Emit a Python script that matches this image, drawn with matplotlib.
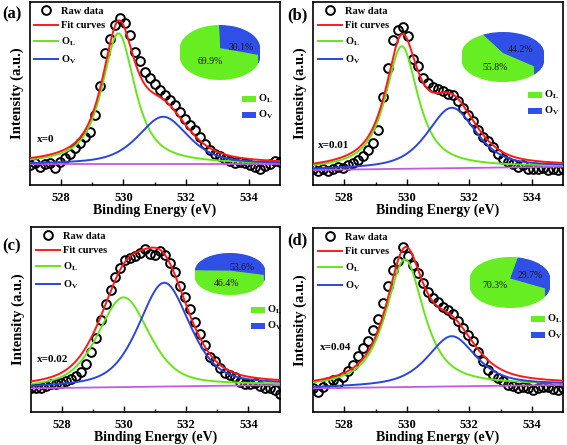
import numpy as np
import matplotlib
matplotlib.use("Agg")
import matplotlib.pyplot as plt
from matplotlib.patches import Wedge, Rectangle

plt.rcParams['font.family'] = ['Liberation Serif', 'DejaVu Serif']
plt.rcParams['font.weight'] = 'bold'
plt.rcParams['mathtext.fontset'] = 'custom'
plt.rcParams['mathtext.rm'] = 'Liberation Serif:bold'
plt.rcParams['mathtext.it'] = 'Liberation Serif:bold'
plt.rcParams['mathtext.bf'] = 'Liberation Serif:bold'

# ---------------- data ----------------
energy = [527.00, 527.16, 527.32, 527.48, 527.64, 527.80, 527.96, 528.12, 528.28, 528.44,
          528.60, 528.76, 528.92, 529.08, 529.24, 529.40, 529.56, 529.72, 529.88, 530.04,
          530.20, 530.36, 530.52, 530.68, 530.84, 531.00, 531.16, 531.32, 531.48, 531.64,
          531.80, 531.96, 532.12, 532.28, 532.44, 532.60, 532.76, 532.92, 533.08, 533.24,
          533.40, 533.56, 533.72, 533.88, 534.04, 534.20, 534.36, 534.52, 534.68, 534.84,
          535.00]

raw_a = [0.110, 0.120, 0.100, 0.115, 0.120, 0.095, 0.125, 0.150, 0.172, 0.200,
         0.228, 0.262, 0.290, 0.380, 0.540, 0.720, 0.800, 0.875, 0.910, 0.885,
         0.820, 0.725, 0.675, 0.620, 0.585, 0.550, 0.520, 0.490, 0.465, 0.435,
         0.400, 0.360, 0.330, 0.300, 0.265, 0.225, 0.190, 0.170, 0.158, 0.140,
         0.130, 0.120, 0.125, 0.120, 0.110, 0.100, 0.090, 0.105, 0.115, 0.130,
         0.125]
raw_b = [0.085, 0.075, 0.090, 0.075, 0.090, 0.100, 0.095, 0.110, 0.120, 0.135,
         0.160, 0.190, 0.230, 0.300, 0.480, 0.640, 0.790, 0.845, 0.865, 0.815,
         0.690, 0.650, 0.585, 0.560, 0.535, 0.525, 0.515, 0.500, 0.490, 0.460,
         0.420, 0.385, 0.350, 0.300, 0.260, 0.240, 0.205, 0.170, 0.140, 0.125,
         0.115, 0.100, 0.110, 0.090, 0.085, 0.085, 0.095, 0.080, 0.090, 0.080,
         0.090]
raw_c = [0.130, 0.130, 0.130, 0.140, 0.150, 0.150, 0.155, 0.165, 0.180, 0.195,
         0.215, 0.260, 0.325, 0.400, 0.500, 0.585, 0.660, 0.730, 0.780, 0.820,
         0.835, 0.845, 0.860, 0.880, 0.855, 0.850, 0.870, 0.850, 0.805, 0.755,
         0.680, 0.620, 0.555, 0.485, 0.420, 0.360, 0.300, 0.275, 0.240, 0.210,
         0.200, 0.190, 0.160, 0.150, 0.150, 0.155, 0.140, 0.130, 0.130, 0.120,
         0.095]
raw_d = [0.130, 0.110, 0.138, 0.163, 0.172, 0.157, 0.190, 0.225, 0.258, 0.307,
         0.347, 0.388, 0.443, 0.505, 0.590, 0.685, 0.770, 0.822, 0.895, 0.850,
         0.800, 0.757, 0.703, 0.653, 0.618, 0.598, 0.573, 0.552, 0.530, 0.493,
         0.454, 0.420, 0.385, 0.325, 0.278, 0.230, 0.203, 0.184, 0.166, 0.148,
         0.140, 0.132, 0.136, 0.128, 0.120, 0.129, 0.136, 0.134, 0.127, 0.120,
         0.129]

# background (left, right) and peak parameters (centre eV, height, FWHM eV, Lorentz fraction)
bg_a = [0.113, 0.113]; ol_a = [529.84, 0.716, 1.25, 0.8]; ov_a = [531.27, 0.260, 1.90, 0.6]
bg_b = [0.082, 0.100]; ol_b = [529.84, 0.670, 1.25, 0.85]; ov_b = [531.44, 0.330, 1.85, 0.6]
bg_c = [0.128, 0.146]; ol_c = [529.98, 0.485, 1.95, 0.5]; ov_c = [531.29, 0.561, 1.95, 0.5]
bg_d = [0.129, 0.147]; ol_d = [529.94, 0.694, 1.45, 0.8]; ov_d = [531.44, 0.273, 1.85, 0.7]

pct_ol = [69.9, 55.8, 46.4, 70.3]
pct_ov = [30.1, 44.2, 53.6, 29.7]
panel_labels = ['(a)', '(b)', '(c)', '(d)']
x_labels = ['x=0', 'x=0.01', 'x=0.02', 'x=0.04']
xticks = [528, 530, 532, 534]

raws = [raw_a, raw_b, raw_c, raw_d]
bgs = [bg_a, bg_b, bg_c, bg_d]
ols = [ol_a, ol_b, ol_c, ol_d]
ovs = [ov_a, ov_b, ov_c, ov_d]

# ---------------- style ----------------
C_RED = '#ff1a1a'
C_GREEN = '#66e619'
C_BLUE = '#2a45dd'
C_PURPLE = '#c45ae0'
C_PIE_G = '#66ee22'
C_PIE_B = '#2f4fe6'

W, H = 567, 445
fig = plt.figure(figsize=(W / 100, H / 100), dpi=100)


def fx(px):
    return px / W


def fy(py):
    return 1 - py / H


# axes boxes in pixels: left, top, right, bottom
boxes = [(29.5, 2, 280, 185), (313, 2, 563, 185), (31, 227, 279.5, 412), (313, 228, 563, 412)]
# pie boxes in pixels: left, top, right, bottom ; blue start angle
pie_boxes = [(180, 25, 260, 80), (462, 32, 544, 82), (195, 253, 265, 295), (470, 257, 550, 308)]
blue_start = [-17, -40, -14, -28]
pct_pos = [((210, 62), (241, 47)), ((495, 67), (520, 50)), ((227, 283), (242, 267)), ((495, 285), (530, 275))]
sq_pos = [(242, 99), (528, 95), (251, 310), (531, 319)]
xlab_pos = [(37, 140), (318, 146), (37, 360), (320, 348)]
plab_pos = [(2, 14), (287, 15), (2, 246), (287, 240)]


def pvoigt(e, c, a, w, eta):
    lor = 1 / (1 + ((e - c) / (w / 2)) ** 2)
    gau = np.exp(-4 * np.log(2) * ((e - c) / w) ** 2)
    return a * (eta * lor + (1 - eta) * gau)


e = np.linspace(527, 535, 600)
E = np.array(energy)

for i in range(4):
    l, t, r, b = boxes[i]
    ax = fig.add_axes([fx(l), fy(b), fx(r - l), (b - t) / H])
    bg = bgs[i]
    bgline = bg[0] + (bg[1] - bg[0]) * (e - 527) / 8
    gl = bgline + pvoigt(e, *ols[i])
    bl = bgline + pvoigt(e, *ovs[i])
    fit = bgline + pvoigt(e, *ols[i]) + pvoigt(e, *ovs[i])

    ax.plot(E, raws[i], 'o', ms=6.3, mfc='none', mec='black', mew=1.4, label='Raw data', zorder=2)
    ax.plot(e, bgline, color=C_PURPLE, lw=1.3, zorder=3)
    ax.plot(e, fit, color=C_RED, lw=1.4, label='Fit curves', zorder=4)
    ax.plot(e, gl, color=C_GREEN, lw=1.4, label=r'O$_\mathregular{L}$', zorder=3)
    ax.plot(e, bl, color=C_BLUE, lw=1.4, label=r'O$_\mathregular{V}$', zorder=3)

    ax.set_xlim(527, 535)
    ax.set_ylim(0, 1)
    ax.set_xticks(xticks)
    ax.set_xticks([529, 531, 533], minor=True)
    ax.set_yticks([])
    ax.tick_params(axis='x', direction='in', length=4, width=1, labelsize=9, pad=5)
    ax.tick_params(axis='x', which='minor', direction='in', length=2, width=1)
    for lab in ax.get_xticklabels():
        lab.set_fontweight('bold')
    for sp in ax.spines.values():
        sp.set_linewidth(1.2)
    ax.set_xlabel('Binding Energy (eV)', fontsize=10, fontweight='bold', labelpad=0)
    ax.set_ylabel('Intensity (a.u.)', fontsize=10.5, fontweight='bold', labelpad=4)

    ax.legend(loc='upper left', frameon=False, fontsize=7.5, handlelength=2.3,
              handletextpad=0.3, labelspacing=0.5, borderaxespad=0.25,
              borderpad=0.2, bbox_to_anchor=(0.0, 1.0))

    fig.text(fx(xlab_pos[i][0]), fy(xlab_pos[i][1]), x_labels[i], fontsize=8,
             fontweight='bold', ha='left', va='center')
    fig.text(fx(plab_pos[i][0]), fy(plab_pos[i][1]), panel_labels[i], fontsize=12,
             fontweight='bold', ha='left', va='center')

    # 3D-like pie
    pl, pt, pr, pb = pie_boxes[i]
    thick = 0.38
    pax = fig.add_axes([fx(pl), fy(pb), fx(pr - pl), (pb - pt) / H])
    pax.set_xlim(-1, 1)
    pax.set_ylim(-1 - thick, 1)
    pax.axis('off')
    a0 = blue_start[i]
    a1 = a0 + 360 * pct_ov[i] / 100
    offs = np.linspace(-thick, 0, 14)
    for k, off in enumerate(offs):
        pax.add_patch(Wedge((0, off), 1, a0, a1, facecolor=C_PIE_B, edgecolor='none', zorder=k))
        pax.add_patch(Wedge((0, off), 1, a1, a0 + 360, facecolor=C_PIE_G, edgecolor='none', zorder=k))
    (gx, gy), (bx, by) = pct_pos[i]
    fig.text(fx(gx), fy(gy), '%.1f%%' % pct_ol[i], fontsize=7, fontweight='normal',
             ha='center', va='center', color='#1a1a1a')
    fig.text(fx(bx), fy(by), '%.1f%%' % pct_ov[i], fontsize=7, fontweight='normal',
             ha='center', va='center', color='#1a1a1a')

    sx, sy = sq_pos[i]
    fig.add_artist(Rectangle((fx(sx), fy(sy + 3)), fx(14), 6 / H, transform=fig.transFigure,
                             facecolor=C_PIE_G, edgecolor='none'))
    fig.add_artist(Rectangle((fx(sx), fy(sy + 19)), fx(14), 6 / H, transform=fig.transFigure,
                             facecolor=C_PIE_B, edgecolor='none'))
    fig.text(fx(sx + 16), fy(sy), r'O$_\mathregular{L}$', fontsize=7.5, fontweight='bold',
             ha='left', va='center')
    fig.text(fx(sx + 16), fy(sy + 16), r'O$_\mathregular{V}$', fontsize=7.5, fontweight='bold',
             ha='left', va='center')

fig.savefig('out.png', dpi=100)
